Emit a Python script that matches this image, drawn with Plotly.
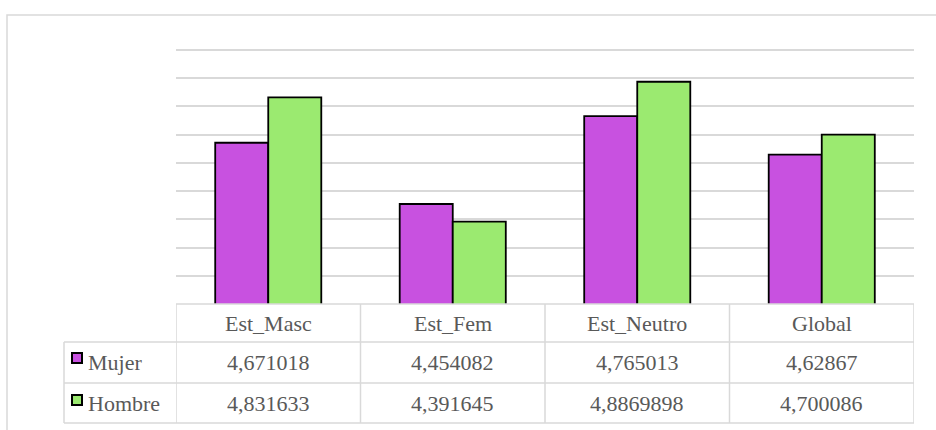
import plotly.graph_objects as go

categories = ["Est_Masc", "Est_Fem", "Est_Neutro", "Global"]
mujer = [4.671018, 4.454082, 4.765013, 4.62867]
hombre = [4.831633, 4.391645, 4.8869898, 4.700086]
series_names = ["Mujer", "Hombre"]
colors = ["#c851e0", "#9bea70"]

W, H = 936, 430
L, R, T, B = 176, 22, 47, 126
PW, PH = W - L - R, H - T - B
FONT = "'Times New Roman', 'Liberation Serif', 'DejaVu Serif', serif"
FS = 22
TXT = "#595959"
GRID = "#d9d9d9"


def pxx(xp):
    return (xp - L) / PW


def pxy(yp):
    return (H - B - yp) / PH


def fmt(v):
    return str(v).replace(".", ",")


fig = go.Figure()
for name, vals, col in zip(series_names, [mujer, hombre], colors):
    fig.add_trace(go.Bar(
        x=categories, y=vals, name=name,
        marker=dict(color=col, line=dict(color="black", width=1.8)),
        showlegend=False,
    ))

shapes = []
# outer chart border (only top/left visible in window)
shapes.append(dict(type="rect", xref="paper", yref="paper",
                   x0=pxx(7), x1=pxx(960), y0=pxy(460), y1=pxy(15),
                   line=dict(color=GRID, width=1.5), layer="below"))
# table horizontal lines
for yp, xs in [(304, 176), (342, 64), (383, 64), (423, 64)]:
    shapes.append(dict(type="line", xref="paper", yref="paper",
                       x0=pxx(xs), x1=1, y0=pxy(yp), y1=pxy(yp),
                       line=dict(color=GRID, width=1.5)))
# table vertical lines (category boundaries)
for k in range(len(categories) + 1):
    shapes.append(dict(type="line", xref="x", yref="paper",
                       x0=k - 0.5, x1=k - 0.5, y0=pxy(423), y1=pxy(304),
                       line=dict(color=GRID, width=1.5)))
shapes.append(dict(type="line", xref="paper", yref="paper",
                   x0=pxx(64), x1=pxx(64), y0=pxy(423), y1=pxy(342),
                   line=dict(color=GRID, width=1.5)))
# legend keys
for i, col in enumerate(colors):
    top = [353, 395][i]
    shapes.append(dict(type="rect", xref="paper", yref="paper",
                       x0=pxx(72), x1=pxx(82), y0=pxy(top + 10), y1=pxy(top),
                       fillcolor=col, line=dict(color="black", width=2)))

annotations = []
row_centers = {"head": 323, "Mujer": 362, "Hombre": 403}
for c in categories:
    annotations.append(dict(x=c, xref="x", y=pxy(row_centers["head"]), yref="paper",
                            text=c, showarrow=False, xanchor="center", yanchor="middle",
                            font=dict(family=FONT, size=FS, color=TXT)))
for name, vals in zip(series_names, [mujer, hombre]):
    yc = pxy(row_centers[name])
    annotations.append(dict(x=pxx(86), xref="paper", y=yc, yref="paper",
                            text=name, showarrow=False, xanchor="left", yanchor="middle",
                            font=dict(family=FONT, size=FS, color=TXT)))
    for c, v in zip(categories, vals):
        annotations.append(dict(x=c, xref="x", y=yc, yref="paper",
                                text=fmt(v), showarrow=False,
                                xanchor="center", yanchor="middle",
                                font=dict(family=FONT, size=FS, color=TXT)))

fig.update_layout(
    width=W, height=H,
    margin=dict(l=L, r=R, t=T, b=B, pad=0),
    paper_bgcolor="white", plot_bgcolor="white",
    barmode="group", bargap=0.425, bargroupgap=0,
    xaxis=dict(showticklabels=False, showgrid=False, zeroline=False,
               showline=False, ticks="", range=[-0.5, 3.5]),
    yaxis=dict(range=[4.1, 5.01], tick0=4.1, dtick=0.1, showgrid=True,
               gridcolor=GRID, gridwidth=1.5, showticklabels=False,
               zeroline=False, showline=False, ticks=""),
    shapes=shapes, annotations=annotations,
    font=dict(family=FONT, color=TXT),
)

fig.write_html("out.html")
